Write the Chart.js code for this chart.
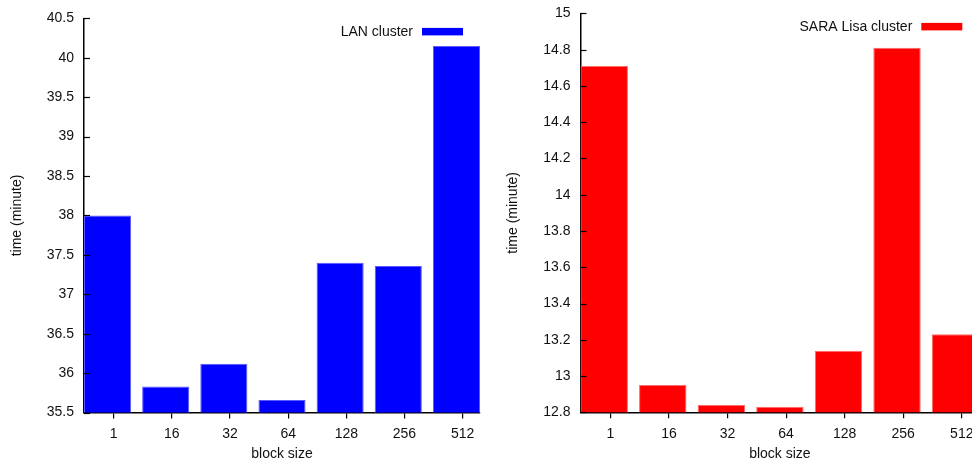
<!DOCTYPE html>
<html>
<head>
<meta charset="utf-8">
<script src="https://cdn.jsdelivr.net/npm/chart.js@4.4.0/dist/chart.umd.min.js"></script>
<style>
    html, body { margin: 0; padding: 0; background: #fff; overflow: hidden; }
    body { width: 972px; height: 463px; position: relative; }
    .panel { position: absolute; }
    #lanPanel { left: 0; top: 0; width: 490px; height: 463px; }
    #saraPanel { left: 490px; top: -5.3px; width: 510px; height: 468px; }
</style>
</head>
<body>
<div class="panel" id="lanPanel"><canvas id="lanChart" width="490" height="463"></canvas></div>
<div class="panel" id="saraPanel"><canvas id="saraChart" width="510" height="468"></canvas></div>
<script>
const blockSizes = ['1', '16', '32', '64', '128', '256', '512'];
const lanTimes = [38.0, 35.83, 36.12, 35.66, 37.40, 37.36, 40.15];
const saraTimes = [14.71, 12.95, 12.84, 12.83, 13.14, 14.81, 13.23];
const lanRange = [35.5, 40.5, 0.5];
const saraRange = [12.8, 15, 0.2];

const FONT = '"Liberation Sans", Arial, sans-serif';

// legend drawn inside the plot, text first then the colour box (gnuplot style)
const insideLegend = {
    id: 'insideLegend',
    afterDraw(chart) {
        const ds = chart.data.datasets[0];
        const { ctx, chartArea } = chart;
        const boxW = 41, boxH = 7.5;
        const boxRight = chartArea.right - 17;
        const boxTop = chartArea.top + 9.5;
        ctx.save();
        ctx.fillStyle = ds.backgroundColor;
        ctx.fillRect(boxRight - boxW, boxTop, boxW, boxH);
        ctx.font = '14px ' + FONT;
        ctx.fillStyle = '#111';
        ctx.textAlign = 'right';
        ctx.textBaseline = 'middle';
        ctx.fillText(ds.label, boxRight - boxW - 9, boxTop + boxH / 2);
        ctx.restore();
    }
};

// y tick marks point into the plot
const innerTicks = {
    id: 'innerTicks',
    afterDraw(chart) {
        const y = chart.scales.y;
        const { ctx, chartArea } = chart;
        ctx.save();
        ctx.strokeStyle = '#000';
        ctx.lineWidth = 1.2;
        y.ticks.forEach(t => {
            const py = Math.round(y.getPixelForValue(t.value)) + 0.5;
            ctx.beginPath();
            ctx.moveTo(chartArea.left, py);
            ctx.lineTo(chartArea.left + 6, py);
            ctx.stroke();
        });
        ctx.restore();
    }
};

function makeChart(id, label, values, color, edge, range, geom) {
    return new Chart(document.getElementById(id), {
        type: 'bar',
        data: {
            datasets: [{
                label: label,
                data: values.map((v, i) => ({ x: i, y: v })),
                backgroundColor: color,
                borderColor: edge,
                borderWidth: 1,
                categoryPercentage: 1,
                barPercentage: 0.81
            }]
        },
        options: {
            responsive: false,
            animation: false,
            layout: { padding: { left: 0, right: geom.right, top: geom.top, bottom: 0 } },
            plugins: { legend: { display: false }, tooltip: { enabled: false } },
            scales: {
                x: {
                    type: 'linear',
                    min: -0.405,
                    max: 6.405,
                    offset: false,
                    afterBuildTicks: axis => {
                        axis.ticks = blockSizes.map((_, i) => ({ value: i + 0.106 }));
                    },
                    afterFit: axis => { axis.height = geom.xHeight; },
                    ticks: {
                        autoSkip: false,
                        maxRotation: 0,
                        padding: 7,
                        color: '#111',
                        font: { family: FONT, size: 14 },
                        callback: (v, i) => blockSizes[i]
                    },
                    grid: { offset: false, drawOnChartArea: false, tickLength: 6, color: '#000', lineWidth: 1.2 },
                    border: { color: '#000', width: 1.5 },
                    title: {
                        display: true,
                        text: 'block size',
                        color: '#111',
                        font: { family: FONT, size: 14 },
                        padding: { top: 0, bottom: 0 }
                    }
                },
                y: {
                    min: range[0],
                    max: range[1],
                    afterFit: axis => { axis.width = geom.yWidth; },
                    ticks: {
                        stepSize: range[2],
                        padding: 10,
                        color: '#111',
                        font: { family: FONT, size: 14 },
                        callback: v => String(+v.toFixed(2))
                    },
                    grid: { display: false, drawTicks: false },
                    border: { color: '#000', width: 1.5 },
                    title: {
                        display: true,
                        text: 'time (minute)',
                        color: '#111',
                        font: { family: FONT, size: 14 },
                        padding: { top: geom.yTitlePad, bottom: 0 }
                    }
                }
            }
        },
        plugins: [insideLegend, innerTicks]
    });
}

makeChart('lanChart', 'LAN cluster', lanTimes, '#0000ff', '#5a5aff', lanRange,
    { yWidth: 84, right: 10, top: 16.5, xHeight: 50.5, yTitlePad: 8.6 });
makeChart('saraChart', 'SARA Lisa cluster', saraTimes, '#ff0000', '#ff6a6a', saraRange,
    { yWidth: 90.5, right: 20.7, top: 18, xHeight: 50.7, yTitlePad: 14.6 });
</script>
</body>
</html>
